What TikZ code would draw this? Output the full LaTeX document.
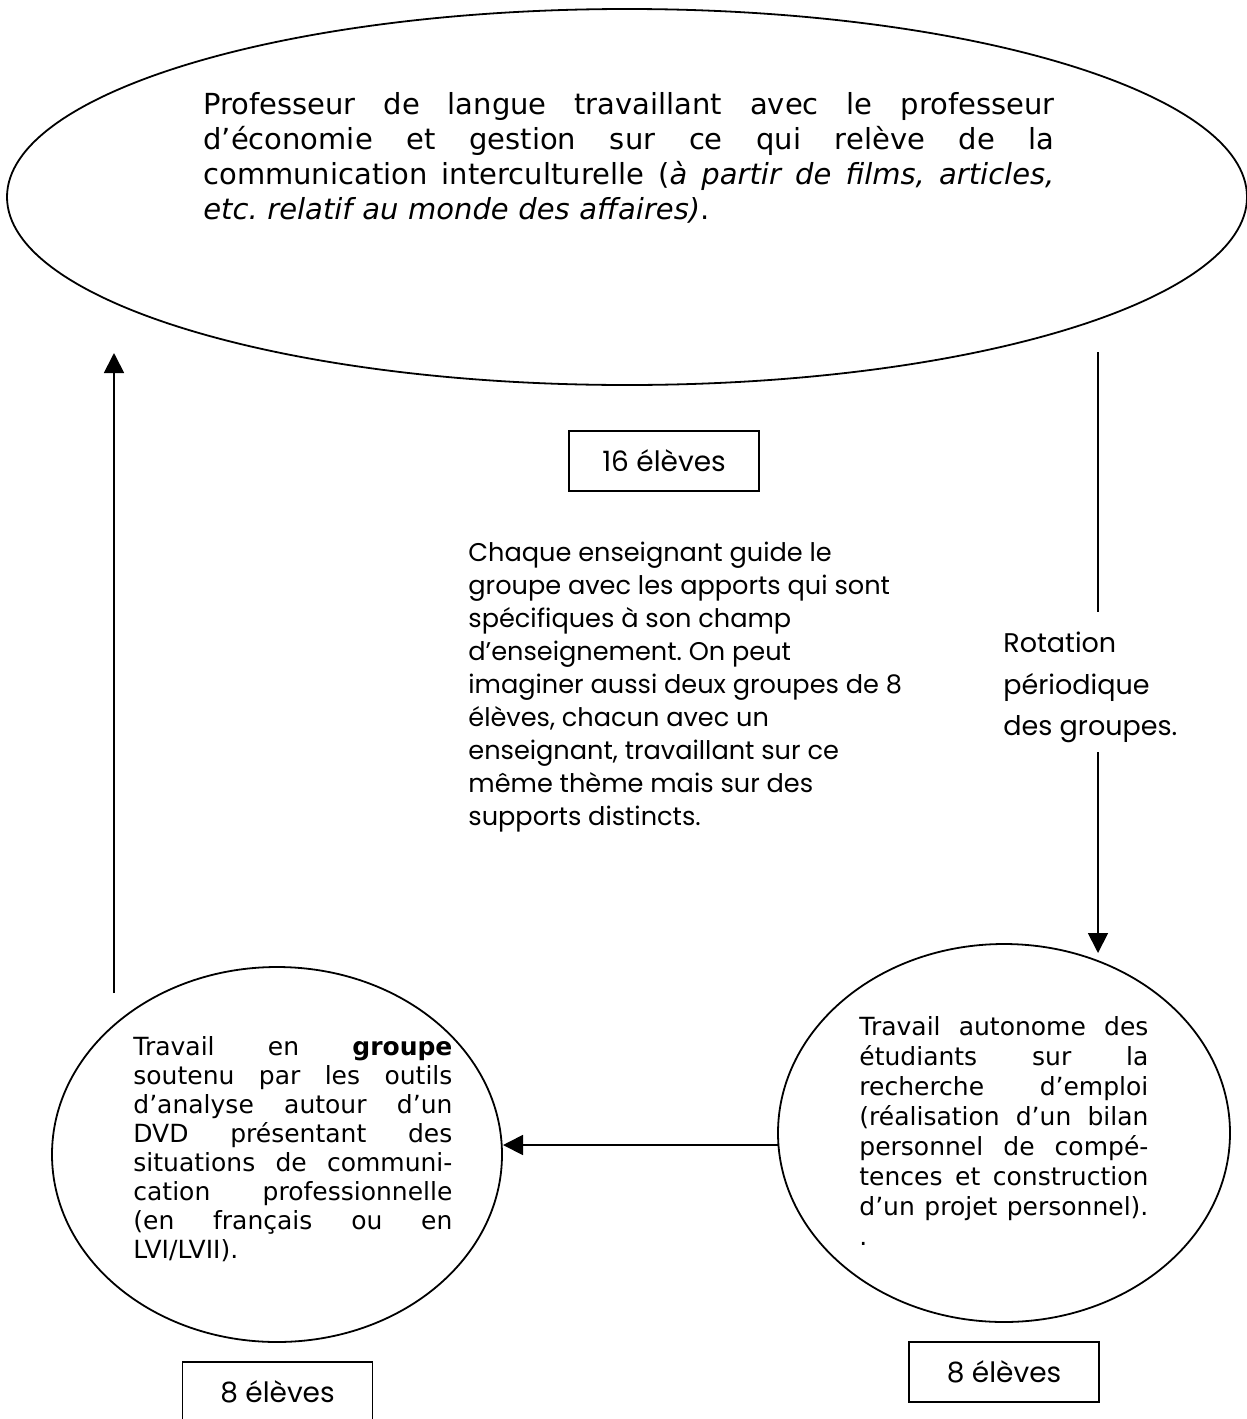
\documentclass[tikz,border=0pt]{standalone}
\usepackage{fontspec}
\usetikzlibrary{shapes.geometric,arrows.meta}
\newfontfamily\vfont{DejaVu Sans}[ItalicFont={DejaVu Sans Oblique},BoldFont={DejaVu Sans Bold}]
\newfontfamily\gfont{Poppins}
% a justified line of given width: spaces share the free room equally
\newcommand\jline[2]{\leavevmode\hbox to #1{\spaceskip=\fontdimen2\font plus 1fil\relax #2}}
\frenchspacing
\begin{document}
\begin{tikzpicture}[x=0.5pt,y=-0.5pt,
  oval/.style={draw,ellipse,line width=0.9pt,inner sep=0pt},
  countbox/.style={draw,line width=0.8pt,minimum width=95pt,minimum height=30pt,inner sep=0pt,
    font=\gfont\fontsize{14}{17}\selectfont},
  arr/.style={line width=0.9pt,-{Triangle[length=10pt,width=10pt]}},
  plainline/.style={line width=0.9pt},
  textblock/.style={inner sep=0pt,anchor=north west,align=left}
]
\useasboundingbox (0,0) rectangle (1247,1419);
\clip (0,0) rectangle (1247,1419);

% the three activities
\node[oval,minimum width=620pt,minimum height=188pt] (prof) at (627,197) {};
\node[oval,minimum width=225pt,minimum height=187.5pt] (grp) at (277,1154.5) {};
\node[oval,minimum width=226pt,minimum height=189pt] (auto) at (1004,1133) {};

% their texts
\node[textblock,text width=424.5pt,font=\vfont\fontsize{14.5}{17.5}\selectfont] (proftxt) at (203,92) {%
\jline{425.5pt}{Professeur de langue travaillant avec le professeur}\\
\jline{425.5pt}{d’économie et gestion sur ce qui relève de la}\\
\jline{425.5pt}{communication interculturelle (\textit{à partir de films, articles,}}\\
\textit{etc. relatif au monde des affaires)}.};

\node[textblock,text width=159.5pt,font=\vfont\fontsize{12.5}{14.5}\selectfont] (grptxt) at (133,1036) {%
\jline{159.5pt}{Travail en \textbf{groupe}}\\
\jline{159.5pt}{soutenu par les outils}\\
\jline{159.5pt}{d’analyse autour d’un}\\
\jline{159.5pt}{DVD présentant des}\\
\jline{159.5pt}{situations de communi-}\\
\jline{159.5pt}{cation professionnelle}\\
\jline{159.5pt}{(en français ou en}\\
LVI/LVII).};

\node[textblock,text width=144.5pt,font=\vfont\fontsize{12.5}{15}\selectfont] (autotxt) at (859,1016) {%
\jline{144.5pt}{Travail autonome des}\\
\jline{144.5pt}{étudiants sur la}\\
\jline{144.5pt}{recherche d’emploi}\\
\jline{144.5pt}{(réalisation d’un bilan}\\
\jline{144.5pt}{personnel de compé-}\\
\jline{144.5pt}{tences et construction}\\
\jline{144.5pt}{d’un projet personnel).}\\
.};

% head-counts
\node[countbox] (n16) at (664,461) {16 élèves};
\node[countbox] (n8a) at (1004,1372) {8 élèves};
\node[countbox] (n8b) at (277.5,1392) {8 élèves};

% comments
\node[textblock,font=\gfont\fontsize{12.8}{16.5}\selectfont] (guide) at (468,542) {%
Chaque enseignant guide le\\
groupe avec les apports qui sont\\
spécifiques à son champ\\
d’enseignement. On peut\\
imaginer aussi deux groupes de 8\\
élèves, chacun avec un\\
enseignant, travaillant sur ce\\
même thème mais sur des\\
supports distincts.};

\node[textblock,font=\gfont\fontsize{13.5}{20.75}\selectfont] (rot) at (1003,632) {%
Rotation\\
périodique\\
des groupes.};

% rotation cycle
\coordinate (upS) at (114,993);
\coordinate (upE) at (114,353);
\coordinate (rA) at (1098,352);
\coordinate (rB) at (1098,612);
\coordinate (rC) at (1098,752);
\coordinate (rD) at (1098,953);
\coordinate (hS) at (778,1145);
\coordinate (hE) at (503,1145);

\draw[arr] (upS) -- (upE);
\draw[plainline] (rA) -- (rB);
\draw[arr] (rC) -- (rD);
\draw[arr] (hS) -- (hE);
\end{tikzpicture}
\end{document}
